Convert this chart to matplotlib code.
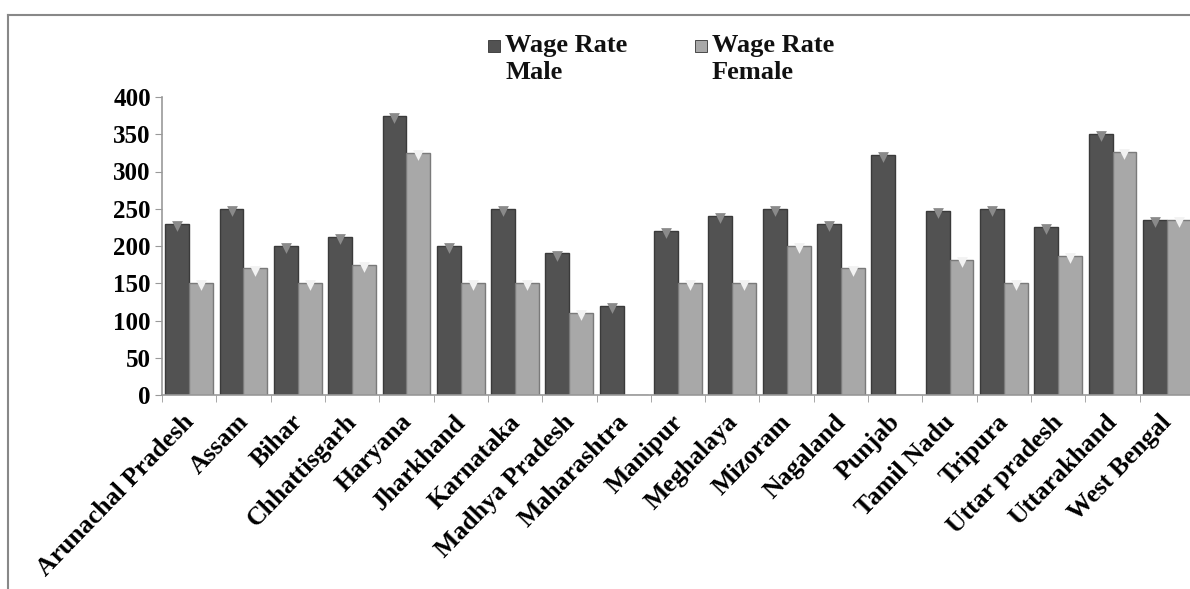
import matplotlib
matplotlib.use("Agg")
import matplotlib.pyplot as plt
import matplotlib.transforms as mtransforms
from matplotlib.lines import Line2D
from matplotlib.patches import Rectangle
import numpy as np

states = ["Arunachal Pradesh", "Assam", "Bihar", "Chhattisgarh", "Haryana", "Jharkhand",
          "Karnataka", "Madhya Pradesh", "Maharashtra", "Manipur", "Meghalaya", "Mizoram",
          "Nagaland", "Punjab", "Tamil Nadu", "Tripura", "Uttar pradesh", "Uttarakhand",
          "West Bengal"]
wage_male = [230, 250, 200, 212, 375, 200, 250, 190, 120, 220, 240, 250, 230, 322, 247, 250, 226, 351, 235]
wage_female = [150, 170, 150, 175, 325, 150, 150, 110, 0, 150, 150, 200, 170, 0, 181, 150, 187, 326, 235]
yticks = [0, 50, 100, 150, 200, 250, 300, 350, 400]
series_names = [("Wage Rate", "Male"), ("Wage Rate", "Female")]

serif = ["Liberation Serif", "DejaVu Serif"]
plt.rcParams["font.family"] = serif

fig = plt.figure(figsize=(11.9, 5.89), dpi=100)
W, H = 1190, 589
ax = fig.add_axes([162/W, 1-395/H, 1032/W, (395-97)/H])

x = np.arange(len(states))
w = 0.44
male_c = "#525252"
fem_c = "#a8a8a8"
ax.bar(x - w/2, wage_male, width=w, color=male_c, edgecolor="#3a3a3a", linewidth=1.0, zorder=2)
ax.bar(x + w/2, wage_female, width=w, color=fem_c, edgecolor="#7a7a7a", linewidth=1.0, zorder=2)

# small bevel marks on bar tops
m = np.array(wage_male, dtype=float)
f = np.array(wage_female, dtype=float)
ax.scatter(x - w/2, m - 3, marker="v", s=60, color="#8a8a8a", zorder=3, linewidths=0)
mask = f > 0
ax.scatter((x + w/2)[mask], f[mask] - 3, marker="v", s=60, color="#f2f2f2", zorder=3, linewidths=0)

ax.set_xlim(-0.5, len(states) - 0.5)
ax.set_ylim(0, 400)
ax.set_yticks(yticks)
ax.set_yticklabels([str(v) for v in yticks], fontsize=18, fontweight="bold")
ax.set_xticks(x)
ax.set_xticklabels(states, rotation=46, ha="right", rotation_mode="anchor",
                   fontsize=18.5, fontweight="bold")
ax.tick_params(axis="x", which="major", length=0, pad=11)
shift = mtransforms.ScaledTranslation(-7/100, 0, fig.dpi_scale_trans)
for lab in ax.get_xticklabels():
    lab.set_transform(lab.get_transform() + shift)
ax.set_xticks(np.arange(-0.5, len(states), 1.0), minor=True)
ax.tick_params(axis="x", which="minor", length=5, color="#999999", direction="out")
ax.tick_params(axis="y", length=5, color="#999999", direction="out", pad=3)
for s in ["top", "right"]:
    ax.spines[s].set_visible(False)
for s in ["left", "bottom"]:
    ax.spines[s].set_color("#999999")
    ax.spines[s].set_linewidth(1.2)

# legend (manual, square aligned with first text line)
for (sx, tx, col, name) in [(488, 505, male_c, series_names[0]), (695, 712, fem_c, series_names[1])]:
    fig.patches.append(Rectangle((sx/W, 1-52/H), 12/W, 12/H, transform=fig.transFigure,
                                 facecolor=col, edgecolor="#333333", linewidth=0.6))
    fig.text(tx/W, 1-52/H, name[0], ha="left", va="baseline", fontsize=19,
             fontweight="bold", color="#111111")
    fig.text(tx/W, 1-79/H, name[1], ha="left", va="baseline", fontsize=19,
             fontweight="bold", color="#111111")

# outer frame lines
fig.add_artist(Line2D([8/W, 1.0], [1-15/H, 1-15/H], color="#888888", linewidth=1.5))
fig.add_artist(Line2D([8/W, 8/W], [1-15/H, 0.0], color="#888888", linewidth=1.5))

fig.savefig("out.png", dpi=100)
